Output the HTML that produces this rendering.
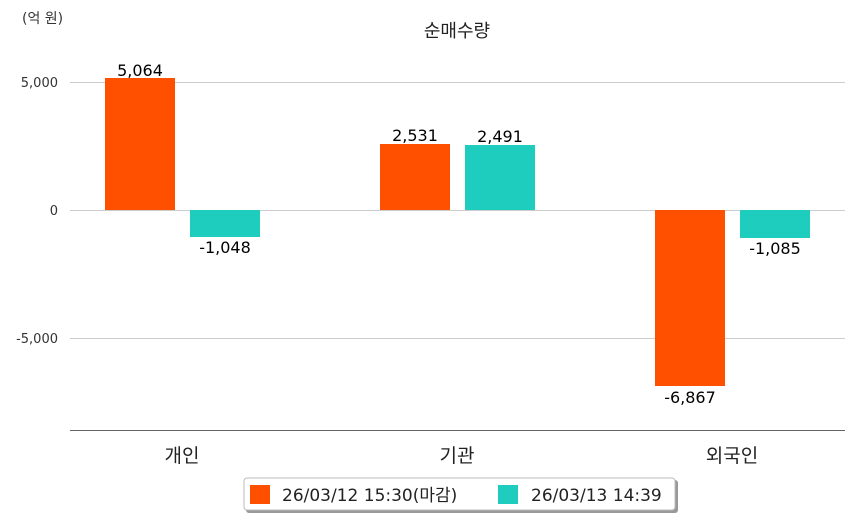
<!DOCTYPE html>
<html><head><meta charset="utf-8"><style>
body{margin:0;background:#fff;}
text{font-family:"DejaVu Sans","Noto Sans CJK KR",sans-serif;}
</style></head><body>
<svg width="854" height="520" xmlns="http://www.w3.org/2000/svg">
<rect width="854" height="520" fill="#fff"/>
<text x="22" y="23" font-size="14" fill="#333">(억 원)</text>
<text x="457" y="37" font-size="18" fill="#222" text-anchor="middle">순매수량</text>
<g stroke="#ccc" stroke-width="1">
<line x1="70" y1="82.5" x2="845" y2="82.5"/>
<line x1="70" y1="210.5" x2="845" y2="210.5"/>
<line x1="70" y1="338.5" x2="845" y2="338.5"/>
</g>
<line x1="70" y1="430.5" x2="845" y2="430.5" stroke="#666" stroke-width="1"/>
<g font-size="13" fill="#333" text-anchor="end">
<text x="58" y="87">5,000</text>
<text x="58" y="215">0</text>
<text x="58" y="343">-5,000</text>
</g>
<g fill="#ff5000">
<rect x="105" y="78" width="70" height="132"/>
<rect x="380" y="144" width="70" height="66"/>
<rect x="655" y="210" width="70" height="176"/>
</g>
<g fill="#1ecdbd">
<rect x="190" y="210" width="70" height="27"/>
<rect x="465" y="145" width="70" height="65"/>
<rect x="740" y="210" width="70" height="28"/>
</g>
<g font-size="16" fill="#000" text-anchor="middle">
<text x="140" y="76">5,064</text>
<text x="225" y="253">-1,048</text>
<text x="415" y="141">2,531</text>
<text x="500" y="142">2,491</text>
<text x="690" y="403">-6,867</text>
<text x="775" y="254">-1,085</text>
</g>
<g font-size="19" fill="#222" text-anchor="middle">
<text x="182" y="462">개인</text>
<text x="457" y="462">기관</text>
<text x="732" y="462">외국인</text>
</g>
<rect x="246" y="480" width="432" height="33" rx="3" fill="#999"/>
<rect x="244" y="478" width="431" height="32" rx="3" fill="#fff" stroke="#bbb"/>
<rect x="250" y="485" width="20" height="19" fill="#ff5000"/>
<text x="282" y="501" font-size="17" fill="#222">26/03/12 15:30(마감)</text>
<rect x="498" y="485" width="20" height="19" fill="#1ecdbd"/>
<text x="531" y="501" font-size="17" fill="#222">26/03/13 14:39</text>
</svg>
</body></html>
